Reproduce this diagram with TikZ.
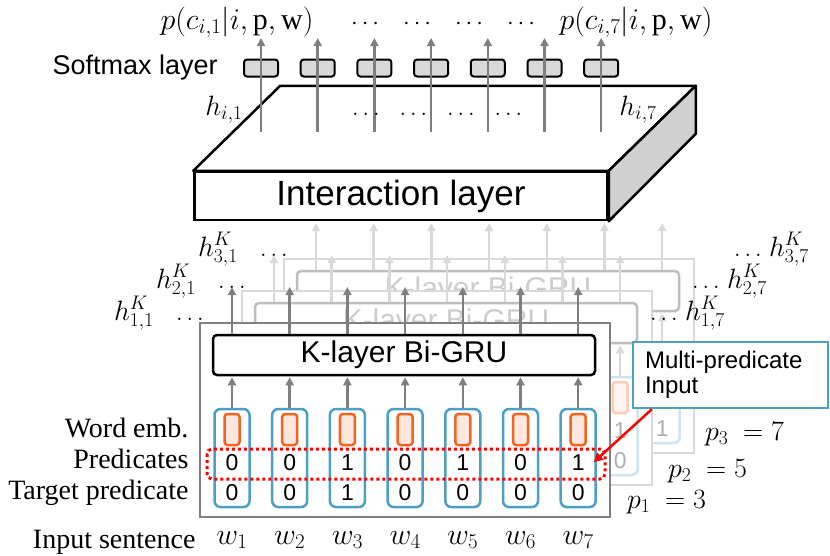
\RequirePackage{fix-cm}
\documentclass[tikz,border=0pt]{standalone}
\usepackage{fontspec}
\setmainfont{Liberation Serif}
\setsansfont{Liberation Sans}
\usepackage{amsmath}
\usepackage{tikz}
\usetikzlibrary{arrows.meta, calc}
\definecolor{framegray}{RGB}{127,127,127}
\definecolor{fadegray}{RGB}{217,217,217}
\definecolor{midgray}{RGB}{190,190,190}
\definecolor{ghosttext}{RGB}{205,205,205}
\definecolor{digfade}{RGB}{175,175,175}
\definecolor{embblue}{RGB}{75,160,196}
\definecolor{embbluelight}{RGB}{208,228,237}
\definecolor{embor}{RGB}{244,100,30}
\definecolor{emborlight}{RGB}{250,205,185}
\definecolor{embfill}{RGB}{253,231,222}
\definecolor{embfilllight}{RGB}{254,243,238}
\definecolor{smfill}{RGB}{217,217,217}
\definecolor{sidegray}{RGB}{208,208,208}

\begin{document}
\begin{tikzpicture}[x=1pt, y=-1pt,
    slab/.style={rectangle, draw, line width=2.5pt, fill=white,
                 minimum width=413pt, minimum height=48pt,
                 font=\fontsize{35}{40}\selectfont\sffamily},
    smbox/.style={rectangle, draw, line width=2pt, rounded corners=3pt,
                  fill=smfill, minimum width=34pt, minimum height=17pt},
    frm/.style={rectangle, draw=frmc, line width=2.5pt, fill=white,
                minimum width=410pt, minimum height=194pt},
    gru/.style={rectangle, draw=gruc, line width=2.5pt, rounded corners=4pt,
                fill=white, text=grut, minimum width=382pt,
                minimum height=40pt, font=\fontsize{30}{34}\selectfont\sffamily},
    colbox/.style={rectangle, draw=colc, line width=2.5pt,
                   rounded corners=6pt, minimum width=35pt, minimum height=98pt},
    embbox/.style={rectangle, draw=embc, fill=embf, line width=2.5pt,
                   rounded corners=3pt, minimum width=15pt, minimum height=31pt},
    dig/.style={text=digc, anchor=base, inner sep=0pt,
                font=\fontsize{23}{26}\selectfont\sffamily},
    callout/.style={rectangle, draw=embblue, line width=2.5pt, fill=white,
                    minimum width=195pt, minimum height=66pt,
                    text width=171pt, align=left, inner xsep=12pt,
                    font=\fontsize{24}{25}\selectfont\sffamily},
    arr/.style={-{Triangle[length=8pt, width=8pt]}, line width=2.5pt, draw=arrc},
    garr/.style={-{Triangle[length=8pt, width=8pt]}, line width=2.5pt, draw=framegray},
    redarr/.style={-{Triangle[length=9pt, width=9pt]}, line width=2.5pt, draw=red},
    preddot/.style={draw=red, line width=3pt, rounded corners=5pt,
                    dash pattern=on 3pt off 3pt},
    mlab/.style={anchor=base, inner sep=0pt, font=\fontsize{28}{32}\selectfont},
    dots/.style={anchor=base west, inner sep=0pt, font=\fontsize{24}{28}\selectfont},
    txtlab/.style={anchor=base east, font=\fontsize{28}{32}\selectfont},
    sml/.style={anchor=base west, font=\fontsize{27}{30}\selectfont\sffamily}
]
    \useasboundingbox (0,0) rectangle (830,555);

    % interaction layer (slab)
    \node[slab] (inter) at (401,196) {Interaction layer};
    \draw[line width=2.5pt, fill=white, line join=round]
        (inter.north west) -- ++(87,-85)
        -- ([shift={(87,-85)}]inter.north east) -- (inter.north east) -- cycle;
    \draw[line width=2.5pt, fill=sidegray, line join=round]
        (inter.north east) -- ++(87,-85) -- ++(0,48)
        -- (inter.south east) -- cycle;

    % softmax layer
    \node[sml] (smlab) at (49,74) {Softmax layer};
    \foreach \i in {1,...,7} {
        \pgfmathsetmacro\sx{261+56.7*(\i-1)}
        \node[smbox] (sm\i) at (\sx,68) {};
        \coordinate (hi\i) at (\sx,132);
        \coordinate (pc\i) at (\sx,38);
        \draw[garr] (hi\i) -- (pc\i);
    }
    \node[mlab, font=\fontsize{30}{32}\selectfont] (pclab1) at (237,29)
        {$p(c_{i,1}|i,\mathrm{p},\mathrm{w})$};
    \node[mlab, font=\fontsize{30}{32}\selectfont] (pclab7) at (636,29)
        {$p(c_{i,7}|i,\mathrm{p},\mathrm{w})$};
    \node[dots] (pcdots) at (351,29)
        {$\cdots$\hspace{20pt}$\cdots$\hspace{20pt}$\cdots$\hspace{20pt}$\cdots$};
    \node[mlab] (hilab1) at (224,115) {$h_{i,1}$};
    \node[mlab] (hilab7) at (638,115) {$h_{i,7}$};
    \node[dots] (hidots) at (352,115)
        {$\ldots$\hspace{20pt}$\ldots$\hspace{20pt}$\ldots$\hspace{20pt}$\ldots$};

    % K-layer Bi-GRU copies, back to front
    \foreach \lay/\tp in {3/7, 2/5, 1/3} {
        \ifnum\lay=1
            \colorlet{frmc}{framegray}\colorlet{gruc}{black}\colorlet{grut}{black}
            \colorlet{colc}{embblue}\colorlet{embc}{embor}\colorlet{embf}{embfill}
            \colorlet{digc}{black}\colorlet{arrc}{framegray}
        \else
            \colorlet{frmc}{fadegray}\colorlet{gruc}{midgray}\colorlet{grut}{ghosttext}
            \colorlet{colc}{embbluelight}\colorlet{embc}{emborlight}
            \colorlet{embf}{embfilllight}
            \colorlet{digc}{digfade}\colorlet{arrc}{fadegray}
        \fi
        \begin{scope}[shift={({42*(\lay-1)},{-32*(\lay-1)})}]
            \node[frm] (frm\lay) at (405,420) {};
            \node[gru] (gru\lay) at (404,355) {K-layer Bi-GRU};
            \foreach \i/\pv in {1/0,2/0,3/1,4/0,5/1,6/0,7/1} {
                \pgfmathsetmacro\cx{232+57.7*(\i-1)}
                \node[colbox] (col\i-\lay) at (\cx,458) {};
                \node[embbox] (emb\i-\lay) at (\cx,429.5) {};
                \node[dig] (pr\i-\lay) at (\cx,470) {\pv};
                \node[dig] (tg\i-\lay) at (\cx,500) {\ifnum\i=\tp\relax 1\else 0\fi};
                \coordinate (hk\i-\lay) at (\cx,287);
                \draw[arr, shorten >=1pt] (col\i-\lay.north) -- (col\i-\lay.north |- gru\lay.south);
                \draw[arr] (col\i-\lay.north |- gru\lay.north) -- (hk\i-\lay);
            }
            \node[mlab, anchor=base west] (hkl\lay) at (114,320) {$h^K_{\lay,1}$};
            \node[dots] (dkl\lay) at (176,320) {$\ldots$};
            \node[dots] (dkr\lay) at (650,320) {$\ldots$};
            \node[mlab, anchor=base west] (hkr\lay) at (685,320) {$h^K_{\lay,7}$};
        \end{scope}
    }

    % predicate rows
    \draw[preddot] (207,449) rectangle (605,479);
    \node[txtlab] (wordlab) at (192,437) {Word emb.};
    \node[txtlab] (predlab) at (192,468) {Predicates};
    \node[txtlab] (tgtlab) at (192,499) {Target predicate};
    \node[txtlab] (inlab) at (199,548) {Input sentence};
    \foreach \i in {1,...,7} {
        \pgfmathsetmacro\cx{232+57.7*(\i-1)}
        \node[mlab, font=\fontsize{30}{34}\selectfont] (w\i) at (\cx,544) {$w_\i$};
    }

    \node[mlab, anchor=base west] (plab3) at (705,440) {$p_3\ =7$};
    \node[mlab, anchor=base west] (plab2) at (668,477) {$p_2\ =5$};
    \node[mlab, anchor=base west] (plab1) at (627,508) {$p_1\ =3$};

    % callout
    \node[callout] (multi) at (730.5,375) {Multi-predicate\\Input};
    \draw[redarr] ([xshift=20pt]multi.south west) -- ([xshift=9pt]pr7-1.east);
\end{tikzpicture}
\end{document}
